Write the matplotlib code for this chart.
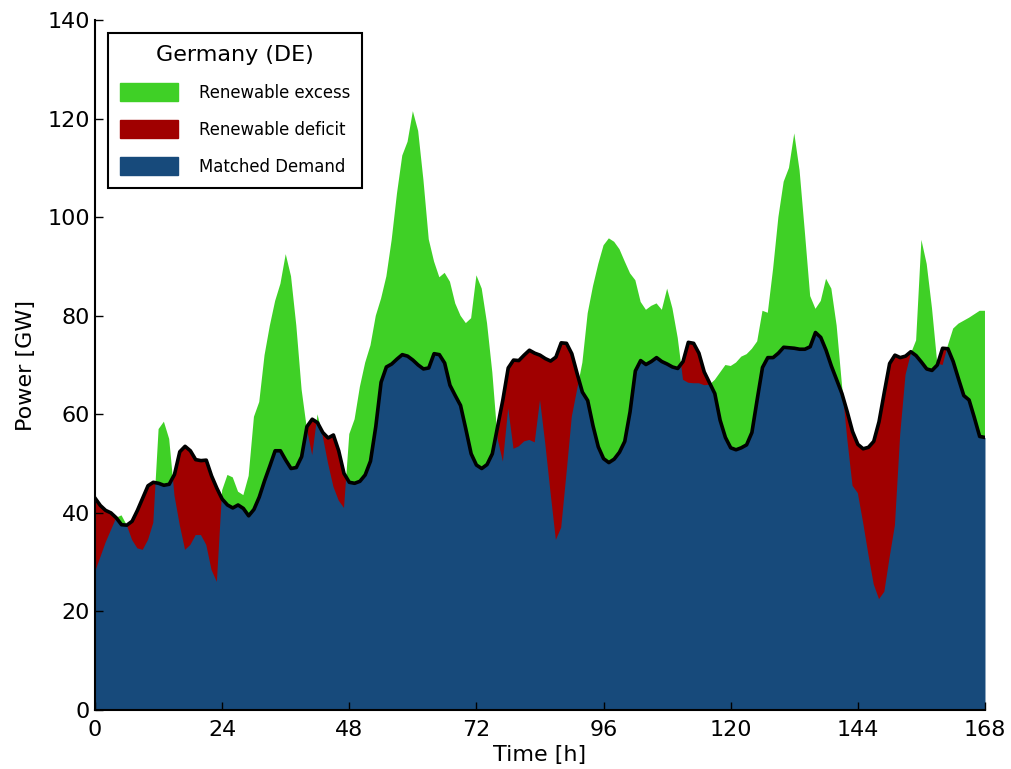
import numpy as np
import matplotlib.pyplot as plt
from matplotlib.patches import Patch

# hourly values for one week
hours = np.arange(0, 169)

load = [
    43.0, 41.5, 40.5, 40.0, 39.0, 37.6, 37.5, 38.3, 40.5, 43.0,
    45.5, 46.2, 46.0, 45.6, 45.8, 47.8, 52.4, 53.5, 52.6, 50.8,
    50.6, 50.7, 47.5, 45.0, 42.8, 41.6, 41.0, 41.6, 40.9, 39.4,
    40.7, 43.2, 46.5, 49.5, 52.6, 52.6, 50.7, 49.0, 49.2, 51.4,
    57.5, 59.0, 58.3, 56.3, 55.2, 55.8, 52.6, 48.0, 46.2, 46.0,
    46.4, 47.7, 50.5, 57.5, 66.5, 69.6, 70.2, 71.2, 72.1, 71.8,
    71.0, 70.0, 69.2, 69.4, 72.3, 72.1, 70.4, 65.9, 63.8, 61.8,
    57.0, 52.0, 49.7, 49.0, 49.8, 52.0, 57.5, 63.0, 69.4, 71.0,
    70.9, 72.0, 73.0, 72.4, 72.0, 71.3, 70.8, 71.6, 74.5, 74.4,
    72.3, 68.3, 64.5, 62.8, 57.7, 53.4, 51.0, 50.2, 50.9, 52.3,
    54.5, 60.5, 68.8, 70.9, 70.1, 70.7, 71.5, 70.7, 70.2, 69.6,
    69.3, 70.7, 74.6, 74.4, 72.4, 68.6, 66.4, 64.2, 58.8, 55.3,
    53.2, 52.8, 53.2, 53.8, 56.3, 63.0, 69.5, 71.5, 71.5, 72.4,
    73.6, 73.5, 73.4, 73.2, 73.2, 73.7, 76.6, 75.6, 73.0, 69.8,
    67.0, 64.2, 60.5, 56.5, 53.9, 53.0, 53.3, 54.5, 58.5, 64.5,
    70.3, 72.0, 71.5, 71.8, 72.7, 71.9, 70.6, 69.2, 68.9, 70.0,
    73.4, 73.3, 70.7, 67.2, 63.8, 62.9, 59.3, 55.5, 55.3,
]

renewable = [
    28.0, 31.0, 34.0, 36.5, 39.0, 39.5, 37.5, 34.5, 32.8, 32.5,
    34.5, 38.0, 57.0, 58.5, 55.0, 43.5, 37.5, 32.5, 33.5, 35.5,
    35.5, 33.5, 28.4, 26.0, 44.6, 47.7, 47.2, 44.3, 43.6, 47.5,
    59.5, 62.5, 72.0, 78.0, 83.0, 86.5, 92.5, 88.0, 78.0, 65.0,
    57.0, 51.7, 60.0, 55.5, 50.0, 45.3, 42.5, 41.0, 56.0, 59.0,
    65.6, 70.5, 74.0, 80.0, 83.5, 88.0, 95.4, 104.8, 112.5, 115.3,
    121.5, 117.5, 107.5, 95.5, 91.0, 87.8, 88.7, 86.9, 82.5, 80.0,
    78.5, 79.5, 88.2, 85.5, 78.5, 68.5, 55.0, 50.4, 61.2, 53.0,
    53.5, 54.5, 54.8, 54.3, 62.9, 54.0, 44.0, 34.5, 37.0, 48.0,
    59.5, 65.0, 70.5, 80.5, 86.0, 90.5, 94.3, 95.7, 95.0, 93.5,
    91.0, 88.6, 87.2, 82.8, 81.2, 82.0, 82.5, 81.2, 85.5, 81.5,
    75.5, 67.0, 66.4, 66.3, 66.3, 65.9, 66.0, 67.0, 68.5, 70.0,
    69.8, 70.5, 71.7, 72.2, 73.3, 74.8, 81.0, 80.6, 89.5, 100.0,
    107.2, 110.0, 117.0, 109.5, 97.0, 84.0, 81.4, 83.0, 87.5, 85.5,
    78.0, 66.0, 55.0, 45.5, 44.0, 38.0, 31.5, 25.5, 22.5, 24.0,
    31.0, 37.5, 56.0, 68.0, 72.3, 75.0, 95.4, 90.5, 81.5, 70.3,
    70.0, 74.0, 77.4, 78.4, 79.0, 79.6, 80.3, 81.0, 81.0,
]

load = np.array(load)
renewable = np.array(renewable)

c_excess = '#3fd026'
c_deficit = '#a00000'
c_matched = '#174a7b'

fig = plt.figure(figsize=(10.12, 7.69), dpi=100)
ax = fig.add_axes([0.0939, 0.0767, 0.8794, 0.8973])

surplus = renewable >= load
# blue up to the load, deficit painted over it, excess above the load
ax.fill_between(hours, 0, load, color=c_matched, linewidth=0)
ax.fill_between(hours, renewable, load, where=~surplus, interpolate=True,
                color=c_deficit, linewidth=0)
ax.fill_between(hours, load, renewable, where=surplus, interpolate=True,
                color=c_excess, linewidth=0)
ax.plot(hours, load, color='black', linewidth=2.6)

ax.set_xlim(0, 168)
ax.set_ylim(0, 140)
ax.set_xticks(np.arange(0, 169, 24))
ax.set_yticks(np.arange(0, 141, 20))
ax.tick_params(direction='in', length=6, width=1, labelsize=16,
               top=False, right=False)
ax.tick_params(axis='x', pad=7)
ax.spines['top'].set_visible(False)
ax.spines['right'].set_visible(False)
ax.spines['left'].set_linewidth(1.5)
ax.spines['bottom'].set_linewidth(1.5)
ax.set_xlabel('Time [h]', fontsize=16, labelpad=4)
ax.set_ylabel('Power [GW]', fontsize=16, labelpad=8)

handles = [Patch(color=c_excess), Patch(color=c_deficit), Patch(color=c_matched)]
labels = ['Renewable excess', 'Renewable deficit', 'Matched Demand']
leg = ax.legend(handles, labels, title='Germany (DE)', loc='upper left',
                fontsize=11.9, title_fontsize=16, handlelength=3.5,
                handleheight=1.3, labelspacing=1.12, handletextpad=1.3,
                borderaxespad=0.8, borderpad=0.7, fancybox=False,
                framealpha=1, edgecolor='black')
leg.get_frame().set_linewidth(1.5)

fig.savefig('out.png', dpi=100)
